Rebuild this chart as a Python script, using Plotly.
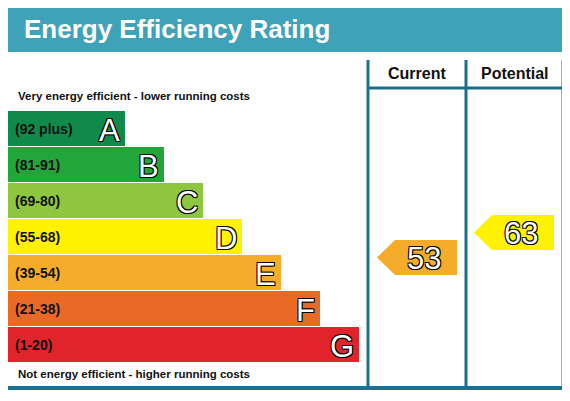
import plotly.graph_objects as go

bands = ['A', 'B', 'C', 'D', 'E', 'F', 'G']
ranges = ['(92 plus)', '(81-91)', '(69-80)', '(55-68)', '(39-54)', '(21-38)', '(1-20)']
colors = ['#0f8a4a', '#22a63a', '#8fc63f', '#fff200', '#f5ac2a', '#ea6a25', '#e1242b']
current = 53
potential = 63
current_color = '#f5ac2a'
potential_color = '#fff200'

W, H = 570, 401
PAGE_MARGIN = 8  # the html body margin offsets the plot div
FONT = 'Liberation Sans, Arial, sans-serif'
OUTLINE = '1px 1px 0 #000, -1px -1px 0 #000, 1px -1px 0 #000, -1px 1px 0 #000'
TEAL = '#3ea3b9'
FRAME = '#1d6f8e'

fig = go.Figure()

# rating bars
tops = [111 + 36 * i for i in range(len(bands))]
rights = [125 + 39 * i for i in range(len(bands))]
fig.add_trace(go.Bar(
    orientation='h', y=[t + 17.5 for t in tops], x=[r - 7 for r in rights], base=7,
    width=35, marker=dict(color=colors, line_width=0), hoverinfo='skip'))

for i, b in enumerate(bands):
    fig.add_annotation(x=13, y=tops[i] + 18, text='<b>%s</b>' % ranges[i], showarrow=False,
                       xanchor='left', font=dict(family=FONT, size=14, color='#111'))
    fig.add_annotation(x=rights[i] - 3, y=tops[i] + 19, text=b, showarrow=False, xanchor='right',
                       font=dict(family=FONT, size=31, color='white', shadow=OUTLINE))


def arrow(value, x0, x1, col):
    yc = 257.5 - 2.5 * (value - 53)
    h = 17.5
    fig.add_trace(go.Scatter(
        x=[x0, x0 + 18, x1, x1, x0 + 18, x0], y=[yc, yc - h, yc - h, yc + h, yc + h, yc],
        fill='toself', fillcolor=col, line_width=0, mode='lines', hoverinfo='skip'))
    fig.add_annotation(x=(x0 + x1) / 2 + 7, y=yc + 1, text=str(value), showarrow=False,
                       font=dict(family=FONT, size=31, color='white', shadow=OUTLINE))


arrow(current, 377, 457, current_color)
arrow(potential, 474, 554, potential_color)

# title bar and frame
fig.add_shape(type='rect', x0=4, x1=572, y0=6, y1=52, fillcolor=TEAL, line_width=0, layer='below')
fig.add_annotation(x=22, y=29, text='<b>Energy Efficiency Rating</b>', showarrow=False, xanchor='left',
                   font=dict(family=FONT, size=26, color='white'))
for x in [368, 466, 563]:
    fig.add_shape(type='line', x0=x, x1=x, y0=60, y1=388, line=dict(color=FRAME, width=3))
fig.add_shape(type='line', x0=368, x1=563, y0=88, y1=88, line=dict(color=FRAME, width=3))
fig.add_shape(type='line', x0=7, x1=565, y0=388, y1=388, line=dict(color=FRAME, width=4))
fig.add_annotation(x=417, y=73, text='<b>Current</b>', showarrow=False,
                   font=dict(family=FONT, size=16, color='#111'))
fig.add_annotation(x=515, y=73, text='<b>Potential</b>', showarrow=False,
                   font=dict(family=FONT, size=16, color='#111'))
fig.add_annotation(x=16, y=96, text='<b>Very energy efficient - lower running costs</b>', showarrow=False,
                   xanchor='left', font=dict(family=FONT, size=11.5, color='#111'))
fig.add_annotation(x=16, y=374, text='<b>Not energy efficient - higher running costs</b>', showarrow=False,
                   xanchor='left', font=dict(family=FONT, size=11.5, color='#111'))

fig.update_layout(width=W, height=H, margin=dict(l=0, r=0, t=0, b=0), showlegend=False,
                  plot_bgcolor='white', paper_bgcolor='white', bargap=0)
fig.update_xaxes(range=[PAGE_MARGIN, W + PAGE_MARGIN], visible=False, fixedrange=True)
fig.update_yaxes(range=[H + PAGE_MARGIN, PAGE_MARGIN], visible=False, fixedrange=True)
fig.write_html("out.html")
